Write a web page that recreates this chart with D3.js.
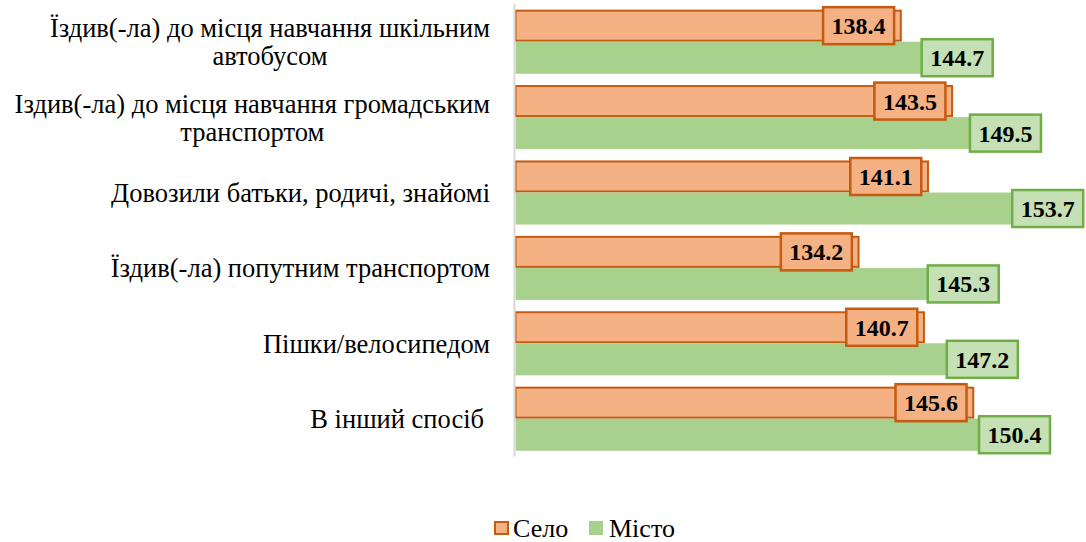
<!DOCTYPE html>
<html>
<head>
<meta charset="utf-8">
<script src="https://cdn.jsdelivr.net/npm/d3@7"></script>
</head>
<body style="margin:0">
<svg id="chart" width="1086" height="542" font-family="Liberation Serif"></svg>
<script>
// categories (each entry = lines of the wrapped label)
var categories = [
  ["Їздив(-ла) до місця навчання шкільним", "автобусом"],
  ["Іздив(-ла) до місця навчання громадським", "транспортом"],
  ["Довозили батьки, родичі, знайомі"],
  ["Їздив(-ла) попутним транспортом"],
  ["Пішки/велосипедом"],
  ["В інший спосіб "]
];
var seriesNames = ["Село", "Місто"];
var seloValues  = [138.4, 143.5, 141.1, 134.2, 140.7, 145.6];
var mistoValues = [144.7, 149.5, 153.7, 145.3, 147.2, 150.4];

var svg = d3.select("#chart");

// scales
var x = d3.scaleLinear()
  .domain([100, 155])
  .range([515.5, 1068.8]);

var y0 = d3.scaleBand()
  .domain(d3.range(categories.length))
  .range([4, 456.4])
  .paddingInner(0.15)
  .paddingOuter(0.075);

var y1 = d3.scaleBand()
  .domain(seriesNames)
  .range([0, y0.bandwidth()]);

var colors = {
  "Село":  {fill: "#F4B183", stroke: "#C55A11", labelFill: "#F4B183"},
  "Місто": {fill: "#A9D18E", stroke: "#70AD47", labelFill: "#C5E0B4"}
};

var rows = categories.map(function(c, i) {
  return {i: i, lines: c, values: [
    {key: "Село", v: seloValues[i]},
    {key: "Місто", v: mistoValues[i]}
  ]};
});

// category labels: block centered, right edge at 490
var labelRight = 490;
var catG = svg.append("g");
rows.forEach(function(r) {
  var cy = y0(r.i) + y0.bandwidth() / 2;
  var g = catG.append("g");
  var n = r.lines.length;
  var lineH = 28;
  var texts = g.selectAll("text")
    .data(r.lines)
    .enter()
    .append("text")
      .attr("font-size", 26.5)
      .attr("fill", "#000")
      .attr("y", function(d, j) { return cy + 9.5 + (j - (n - 1) / 2) * lineH; })
      .text(function(d) { return d.trim(); });
  var maxW = 0;
  texts.each(function() { maxW = Math.max(maxW, this.getComputedTextLength()); });
  // trailing space in a label pushes it left by a space width
  var shift = /\s$/.test(r.lines[0]) ? 6 : 0;
  texts.attr("text-anchor", "middle").attr("x", labelRight - shift - maxW / 2);
});

// bars
var groups = svg.append("g")
  .selectAll("g")
  .data(rows)
  .enter()
  .append("g")
    .attr("transform", function(d) { return "translate(0," + y0(d.i) + ")"; });

groups.selectAll("rect")
  .data(function(d) { return d.values; })
  .enter()
  .append("rect")
    .attr("x", x(100))
    .attr("y", function(d) { return d.key === "Село" ? y1(d.key) + 1 : y1(d.key); })
    .attr("width", function(d) { return x(d.v) - x(100) - (d.key === "Село" ? 1 : 0); })
    .attr("height", function(d) { return d.key === "Село" ? y1.bandwidth() - 2 : y1.bandwidth(); })
    .attr("fill", function(d) { return colors[d.key].fill; })
    .attr("stroke", function(d) { return d.key === "Село" ? colors[d.key].stroke : "none"; })
    .attr("stroke-width", 2);

// axis line
svg.append("line")
  .attr("x1", x(100) - 1).attr("x2", x(100) - 1)
  .attr("y1", y0.range()[0]).attr("y2", y0.range()[1])
  .attr("stroke", "#D9D9D9")
  .attr("stroke-width", 2);

// value labels
var boxW = 71, boxH = 37;
groups.each(function(r) {
  var g = d3.select(this);
  r.values.forEach(function(d) {
    var cy = y1(d.key) + y1.bandwidth() / 2;
    var cx = d.key === "Село" ? x(d.v) - 7.7 - boxW / 2 : x(d.v) - 8;
    g.append("rect")
      .attr("x", cx - boxW / 2)
      .attr("y", cy - boxH / 2)
      .attr("width", boxW)
      .attr("height", boxH)
      .attr("fill", colors[d.key].labelFill)
      .attr("stroke", colors[d.key].stroke)
      .attr("stroke-width", 2.5);
    g.append("text")
      .attr("x", cx)
      .attr("y", cy + 8.5)
      .attr("text-anchor", "middle")
      .attr("font-size", 24)
      .attr("font-weight", "bold")
      .attr("fill", "#000")
      .text(d3.format(".1f")(d.v));
  });
});

// legend
var legend = svg.append("g");
legend.append("rect")
  .attr("x", 495).attr("y", 522).attr("width", 13).attr("height", 12)
  .attr("fill", colors["Село"].fill)
  .attr("stroke", colors["Село"].stroke)
  .attr("stroke-width", 2);
legend.append("text")
  .attr("x", 513).attr("y", 537)
  .attr("font-size", 26)
  .text(seriesNames[0]);
legend.append("rect")
  .attr("x", 589).attr("y", 521).attr("width", 14).attr("height", 14)
  .attr("fill", colors["Місто"].fill);
legend.append("text")
  .attr("x", 609).attr("y", 537)
  .attr("font-size", 26)
  .text(seriesNames[1]);
</script>
</body>
</html>
